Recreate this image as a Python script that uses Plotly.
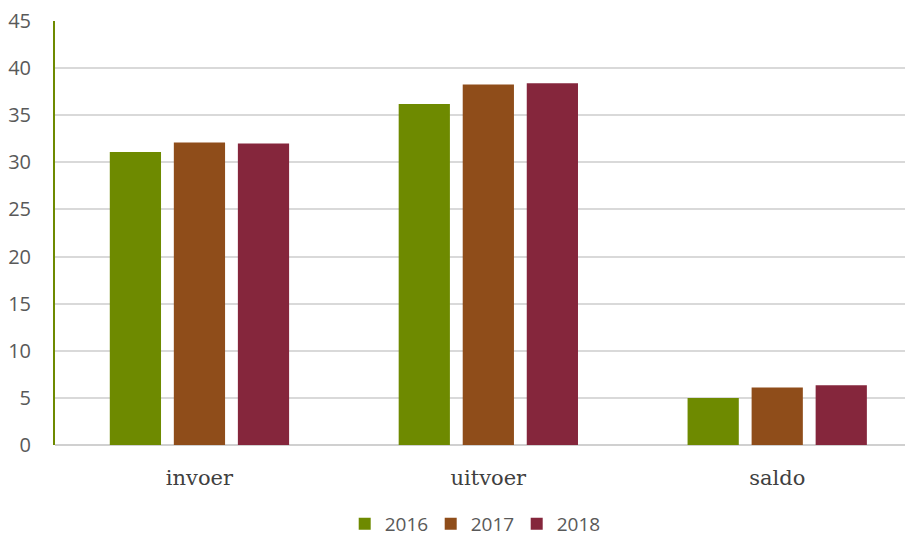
import plotly.graph_objects as go

categories = ["invoer", "uitvoer", "saldo"]
years = ["2016", "2017", "2018"]
values_2016 = [31.1, 36.2, 5.0]
values_2017 = [32.1, 38.25, 6.1]
values_2018 = [32.0, 38.4, 6.35]
colors = ["#6e8a00", "#8f4d1a", "#85263c"]

fig = go.Figure()
for name, vals, col in zip(years, [values_2016, values_2017, values_2018], colors):
    fig.add_trace(go.Bar(x=categories, y=vals, name=name, marker=dict(color=col, line=dict(width=0))))

font = "'Open Sans', Lato, sans-serif"
fig.update_layout(
    width=905, height=529,
    margin=dict(l=47, r=0, t=13, b=92, autoexpand=False),
    plot_bgcolor="white", paper_bgcolor="white",
    barmode="group", bargap=0.335, bargroupgap=0.2,
    font=dict(family=font, size=19, color="#595959"),
    showlegend=True,
    legend=dict(orientation="h", x=0.488, xanchor="center", y=-0.186, yanchor="middle",
                font=dict(size=19, color="#595959"), itemwidth=30, traceorder="normal",
                entrywidth=41, entrywidthmode="pixels"),
    xaxis=dict(range=[-0.5, 2.47], showgrid=False, showline=False, ticks="",
               tickfont=dict(family="'DejaVu Serif', serif", size=21, color="#404040"),
               ticklabelstandoff=18),
    yaxis=dict(range=[0, 45], dtick=5, showgrid=True, gridcolor="#d9d9d9", gridwidth=1.5,
               zeroline=True, zerolinecolor="#d0d0d0", zerolinewidth=2,
               showline=True, linecolor="#6e8a00", linewidth=2, ticklabeloverflow="allow",
               ticks="", tickfont=dict(size=20, color="#595959"), ticklabelstandoff=18),
)
fig.write_html("out.html")
